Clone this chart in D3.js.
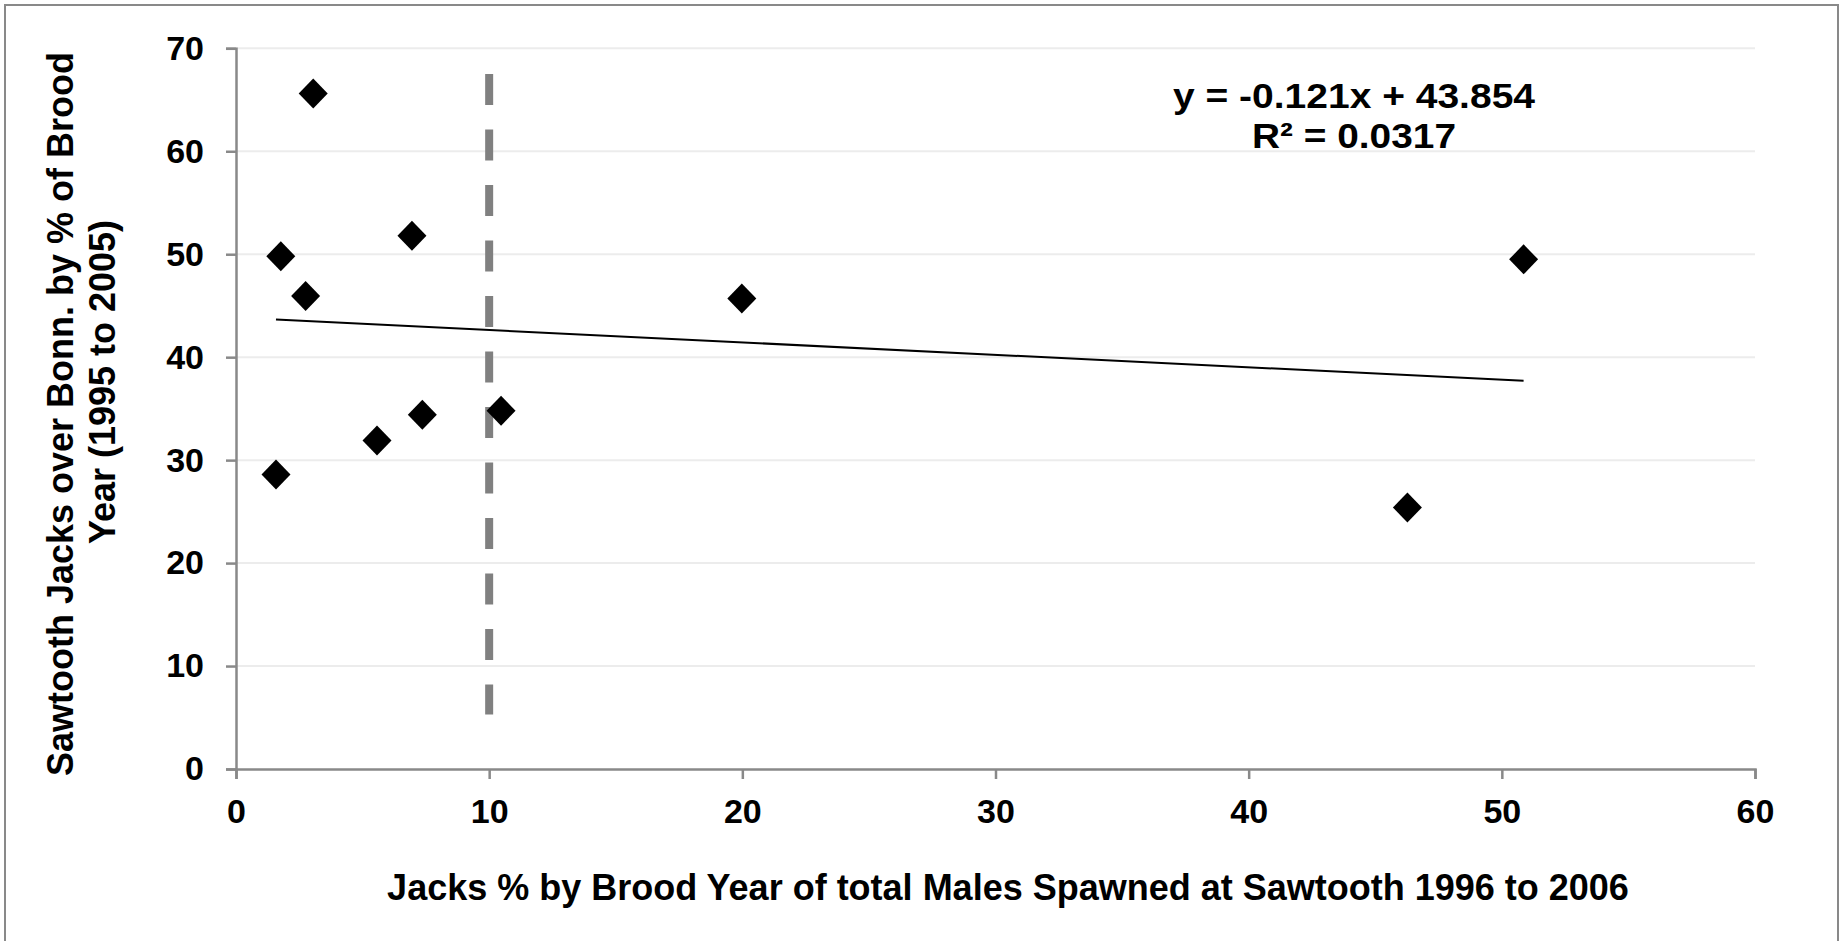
<!DOCTYPE html>
<html>
<head>
<meta charset="utf-8">
<script src="https://cdn.jsdelivr.net/npm/d3@7"></script>
<style>
  body { margin: 0; background: #fff; }
  text { font-family: "Liberation Sans", Arial, sans-serif; font-weight: bold; fill: #000; }
</style>
</head>
<body>
<svg width="1841" height="941"></svg>
<script>
// Data
const jacksPct = [1.58, 1.77, 2.75, 3.05, 5.57, 6.95, 7.36, 10.47, 19.98, 46.27, 50.86];
const overBonn = [28.6, 49.8, 45.95, 65.6, 31.9, 51.8, 34.4, 34.8, 45.7, 25.4, 49.5];
const xTicks = [0, 10, 20, 30, 40, 50, 60];
const yTicks = [0, 10, 20, 30, 40, 50, 60, 70];
const trendSlope = -0.121;
const trendIntercept = 43.854;
const equationLines = ["y = -0.121x + 43.854", "R\u00b2 = 0.0317"];
const refX = 10;
const refYRange = [67.5, 5.3];
const xTitle = "Jacks % by Brood Year of total Males Spawned at Sawtooth 1996 to 2006";
const yTitleLines = ["Sawtooth Jacks over Bonn. by % of Brood", "Year (1995 to 2005)"];

const axisColor = "#898989";

let x = d3.scaleLinear().domain([0, 60]).range([236, 1755]);
let y = d3.scaleLinear().domain([0, 70]).range([769, 48.3]);

let svg = d3.select("svg");

// outer frame
svg.append("rect")
  .attr("x", 5).attr("y", 5)
  .attr("width", 1833).attr("height", 960)
  .style("fill", "white")
  .style("stroke", axisColor)
  .style("stroke-width", 2);

// horizontal gridlines
svg.append("g")
  .selectAll("line")
  .data(yTicks.filter(d => d > 0))
  .enter()
  .append("line")
  .attr("x1", x(0))
  .attr("x2", x(60))
  .attr("y1", d => y(d))
  .attr("y2", d => y(d))
  .style("stroke", "#ececec")
  .style("stroke-width", 2);

// axes
let yAxis = d3.axisLeft(y).tickValues(yTicks).tickSize(10).tickPadding(22).tickSizeOuter(10);
let xAxis = d3.axisBottom(x).tickValues(xTicks).tickSize(10).tickPadding(20).tickSizeOuter(10);

function styleAxis(g) {
  g.select(".domain").style("stroke", axisColor).style("stroke-width", 2.5);
  g.selectAll(".tick line").style("stroke", axisColor).style("stroke-width", 2.5);
  g.selectAll(".tick text")
    .style("font-size", "34px")
    .style("font-family", '"Liberation Sans", Arial, sans-serif')
    .style("font-weight", "bold")
    .style("fill", "#000");
}

svg.append("g")
  .attr("transform", `translate(${x(0)}, 0)`)
  .call(yAxis)
  .call(styleAxis);

svg.append("g")
  .attr("transform", `translate(0, ${y(0)})`)
  .call(xAxis)
  .call(styleAxis);

// dashed reference line at 10 %
svg.append("line")
  .attr("x1", x(refX)).attr("x2", x(refX))
  .attr("y1", y(refYRange[0])).attr("y2", y(refYRange[1]))
  .style("stroke", "#808080")
  .style("stroke-width", 8)
  .style("stroke-dasharray", "31,24.5");

// linear trend line
let xMin = d3.min(jacksPct), xMax = d3.max(jacksPct);
let trend = [xMin, xMax].map(v => ({ x: v, y: trendSlope * v + trendIntercept }));
let line = d3.line().x(d => x(d.x)).y(d => y(d.y));
svg.append("path")
  .datum(trend)
  .attr("d", line)
  .style("fill", "none")
  .style("stroke", "#000")
  .style("stroke-width", 2);

// diamond markers
let points = jacksPct.map((v, i) => ({ x: v, y: overBonn[i] }));
svg.append("g")
  .selectAll("path")
  .data(points)
  .enter()
  .append("path")
  .attr("d", "M0,-15L14.5,0L0,15L-14.5,0Z")
  .attr("transform", d => `translate(${x(d.x)},${y(d.y)})`)
  .style("fill", "#000");

// equation label (Excel draws it wider than Liberation Sans would)
const eqWidths = [362, 204];
svg.append("g")
  .selectAll("text")
  .data(equationLines)
  .enter()
  .append("text")
  .attr("x", 1354)
  .attr("y", (d, i) => 108 + i * 39.5)
  .attr("text-anchor", "middle")
  .attr("textLength", (d, i) => eqWidths[i])
  .attr("lengthAdjust", "spacingAndGlyphs")
  .style("font-size", "35px")
  .text(d => d);

// axis titles
svg.append("text")
  .attr("x", 1008)
  .attr("y", 900)
  .attr("text-anchor", "middle")
  .style("font-size", "36px")
  .text(xTitle);

const yTitlePos = [{ bx: 73, cy: 414 }, { bx: 115, cy: 382 }];
svg.append("g")
  .selectAll("text")
  .data(yTitleLines)
  .enter()
  .append("text")
  .attr("text-anchor", "middle")
  .attr("transform", (d, i) => `translate(${yTitlePos[i].bx},${yTitlePos[i].cy}) rotate(-90)`)
  .style("font-size", "36px")
  .text(d => d);
</script>
</body>
</html>
